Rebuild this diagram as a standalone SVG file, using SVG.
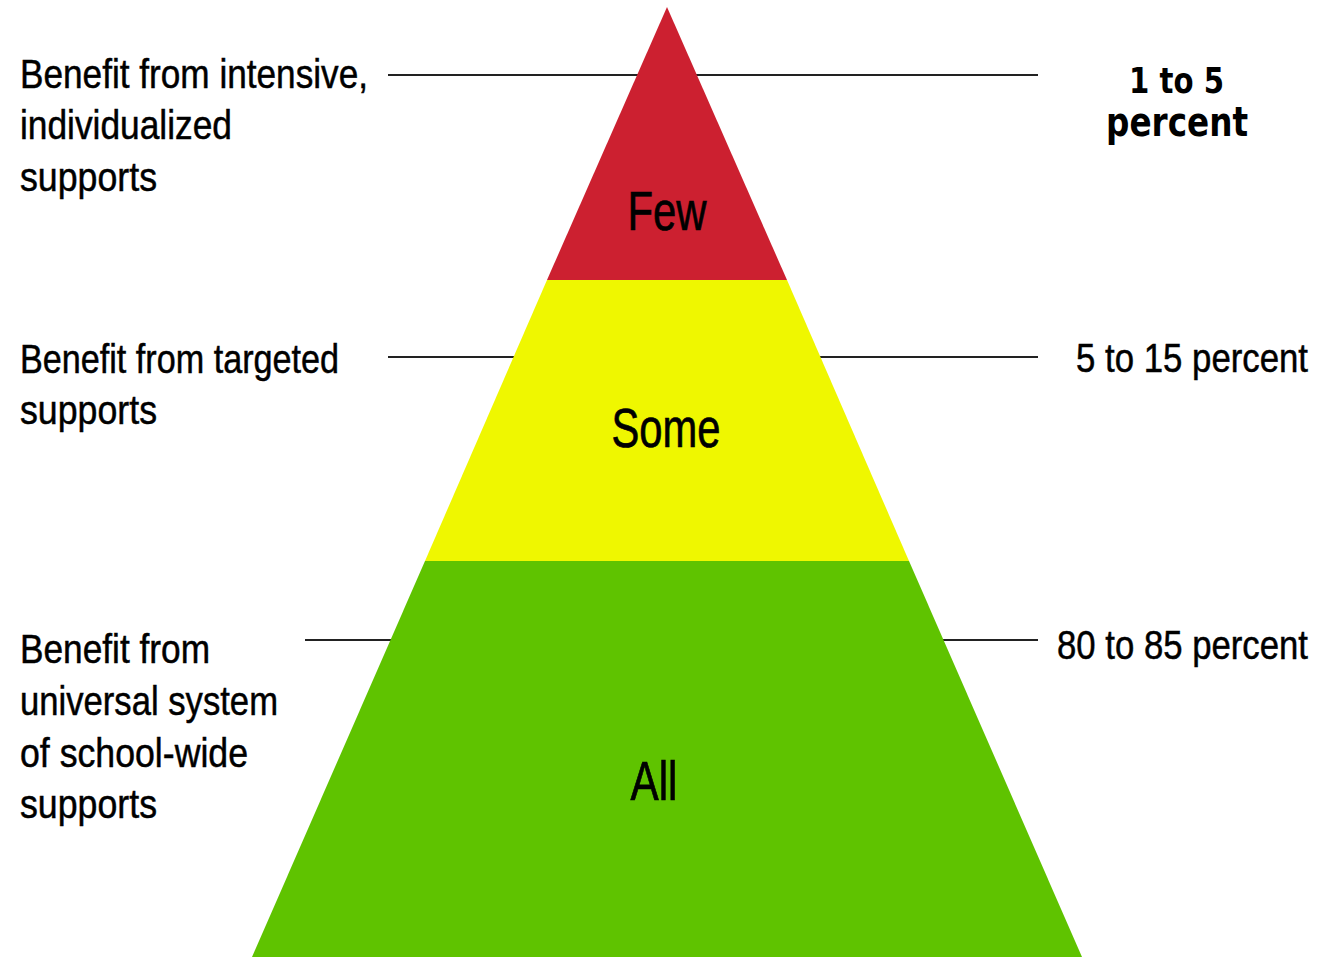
<svg xmlns="http://www.w3.org/2000/svg" width="1340" height="957" viewBox="0 0 1340 957">
<style>
.lbl{font-family:"Liberation Sans",Arial,sans-serif;font-size:41px;fill:#000;stroke:#000;stroke-width:0.5}
.end{text-anchor:end}
.tier{font-family:"Liberation Sans",Arial,sans-serif;font-size:55px;fill:#000;stroke:#000;stroke-width:0.7;text-anchor:middle}
.bold{font-family:"DejaVu Sans","Liberation Sans",sans-serif;font-weight:bold;fill:#000}
.ln{stroke:#222;stroke-width:2;fill:none}
</style>
<rect width="1340" height="957" fill="#fff"/>
<g id="connectors">
<line class="ln" x1="388" y1="75" x2="1038" y2="75"/>
<line class="ln" x1="388" y1="357" x2="1038" y2="357"/>
<line class="ln" x1="305" y1="640" x2="1038" y2="640"/>
</g>
<g id="tier-few">
<polygon points="667,7 787,280 547,280" fill="#CC2030"/>
<text class="tier" x="667" y="230" textLength="79" lengthAdjust="spacingAndGlyphs">Few</text>
</g>
<g id="tier-some">
<polygon points="547,280 787,280 909,561 425,561" fill="#EFF700"/>
<text class="tier" x="666" y="447" textLength="109" lengthAdjust="spacingAndGlyphs">Some</text>
</g>
<g id="tier-all">
<polygon points="425,561 909,561 1082,957 252,957" fill="#5FC300"/>
<text class="tier" x="654" y="800" textLength="47" lengthAdjust="spacingAndGlyphs">All</text>
</g>
<g id="label-left-1">
<text class="lbl" x="20" y="88" textLength="348" lengthAdjust="spacingAndGlyphs">Benefit from intensive,</text>
<text class="lbl" x="20" y="139" textLength="212" lengthAdjust="spacingAndGlyphs">individualized</text>
<text class="lbl" x="20" y="191" textLength="137" lengthAdjust="spacingAndGlyphs">supports</text>
</g>
<g id="label-left-2">
<text class="lbl" x="20" y="373" textLength="319" lengthAdjust="spacingAndGlyphs">Benefit from targeted</text>
<text class="lbl" x="20" y="424" textLength="137" lengthAdjust="spacingAndGlyphs">supports</text>
</g>
<g id="label-left-3">
<text class="lbl" x="20" y="663" textLength="190" lengthAdjust="spacingAndGlyphs">Benefit from</text>
<text class="lbl" x="20" y="715" textLength="258" lengthAdjust="spacingAndGlyphs">universal system</text>
<text class="lbl" x="20" y="767" textLength="228" lengthAdjust="spacingAndGlyphs">of school-wide</text>
<text class="lbl" x="20" y="818" textLength="137" lengthAdjust="spacingAndGlyphs">supports</text>
</g>
<g id="label-right-1">
<text class="bold" x="1129" y="93" font-size="35" textLength="95" lengthAdjust="spacingAndGlyphs">1 to 5</text>
<text class="bold" x="1106" y="136" font-size="40" textLength="142" lengthAdjust="spacingAndGlyphs">percent</text>
</g>
<g id="label-right-2">
<text class="lbl end" transform="translate(1308,372) scale(0.848,1)" x="0" y="0">5 to 15 percent</text>
</g>
<g id="label-right-3">
<text class="lbl end" transform="translate(1308,659) scale(0.847,1)" x="0" y="0">80 to 85 percent</text>
</g>
</svg>
